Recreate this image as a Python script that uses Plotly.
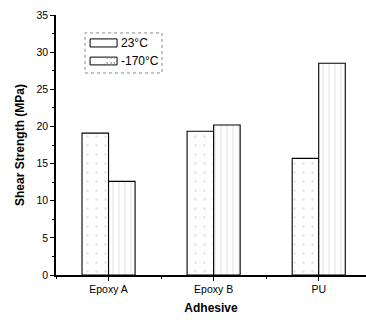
import plotly.graph_objects as go

categories = ["Epoxy A", "Epoxy B", "PU"]
room_temp = [19.1, 19.35, 15.7]
cryo_temp = [12.6, 20.2, 28.5]
series_names = ["23°C", "-170°C"]
y_ticks = [0, 5, 10, 15, 20, 25, 30, 35]

xpos = list(range(len(categories)))

fig = go.Figure()
fig.add_trace(go.Bar(
    x=xpos, y=room_temp, name=series_names[0],
    marker=dict(color="white", line=dict(color="black", width=1.1),
                pattern=dict(shape=".", fgcolor="#c8c8c8", bgcolor="white", size=9, solidity=0.06)),
    showlegend=False,
))
fig.add_trace(go.Bar(
    x=xpos, y=cryo_temp, name=series_names[1],
    marker=dict(color="white", line=dict(color="black", width=1.1),
                pattern=dict(shape="|", fgcolor="#a8a8a8", bgcolor="white", size=6, solidity=0.12)),
    showlegend=False,
))

font_family = "Liberation Sans, Arial, sans-serif"

fig.update_layout(
    width=366, height=322,
    margin=dict(l=56, r=0, t=15, b=47),
    plot_bgcolor="white", paper_bgcolor="white",
    barmode="group", bargap=0.495, bargroupgap=0,
    font=dict(family=font_family, size=10.5, color="black"),
    xaxis=dict(
        range=[-0.5, 2.45], tickvals=xpos, ticktext=categories,
        showline=True, linecolor="black", linewidth=1.5,
        ticks="outside", ticklen=4, tickcolor="black", tickwidth=1,
        minor=dict(tick0=0.5, dtick=1, ticks="outside", ticklen=2, tickcolor="black"),
        showgrid=False, zeroline=False,
        title=dict(text="<b>Adhesive</b>", font=dict(size=12), standoff=9),
        tickfont=dict(size=10.5),
    ),
    yaxis=dict(
        range=[0, 35], tickvals=y_ticks,
        showline=True, linecolor="black", linewidth=1.5,
        ticks="outside", ticklen=4, tickcolor="black", tickwidth=1,
        minor=dict(dtick=2.5, ticks="outside", ticklen=2, tickcolor="black"),
        showgrid=False, zeroline=False,
        title=dict(text="<b>Shear Strength (MPa)</b>", font=dict(size=12), standoff=9),
        tickfont=dict(size=10.5),
    ),
)

# Legend drawn manually (box + swatches + labels)
fig.add_shape(type="rect", xref="paper", yref="paper", x0=0.0935, x1=0.342, y0=0.777, y1=0.931,
              line=dict(color="#888", width=1, dash="dot"), fillcolor="rgba(0,0,0,0)")
fig.add_shape(type="rect", xref="paper", yref="paper", x0=0.11, x1=0.197, y0=0.877, y1=0.908,
              line=dict(color="black", width=1), fillcolor="white")
fig.add_shape(type="rect", xref="paper", yref="paper", x0=0.11, x1=0.197, y0=0.808, y1=0.838,
              line=dict(color="black", width=1), fillcolor="white")
for xv in [0.165, 0.178, 0.188]:
    fig.add_shape(type="line", xref="paper", yref="paper", x0=xv, x1=xv, y0=0.808, y1=0.838,
                  line=dict(color="#888", width=1, dash="dot"))
fig.add_annotation(xref="paper", yref="paper", x=0.203, y=0.892, text=series_names[0],
                   showarrow=False, xanchor="left", yanchor="middle", font=dict(size=12))
fig.add_annotation(xref="paper", yref="paper", x=0.203, y=0.823, text=series_names[1],
                   showarrow=False, xanchor="left", yanchor="middle", font=dict(size=12))

fig.write_html("out.html", config={"displayModeBar": False},
               post_script="document.body.style.margin='0';document.body.style.overflow='hidden';")
